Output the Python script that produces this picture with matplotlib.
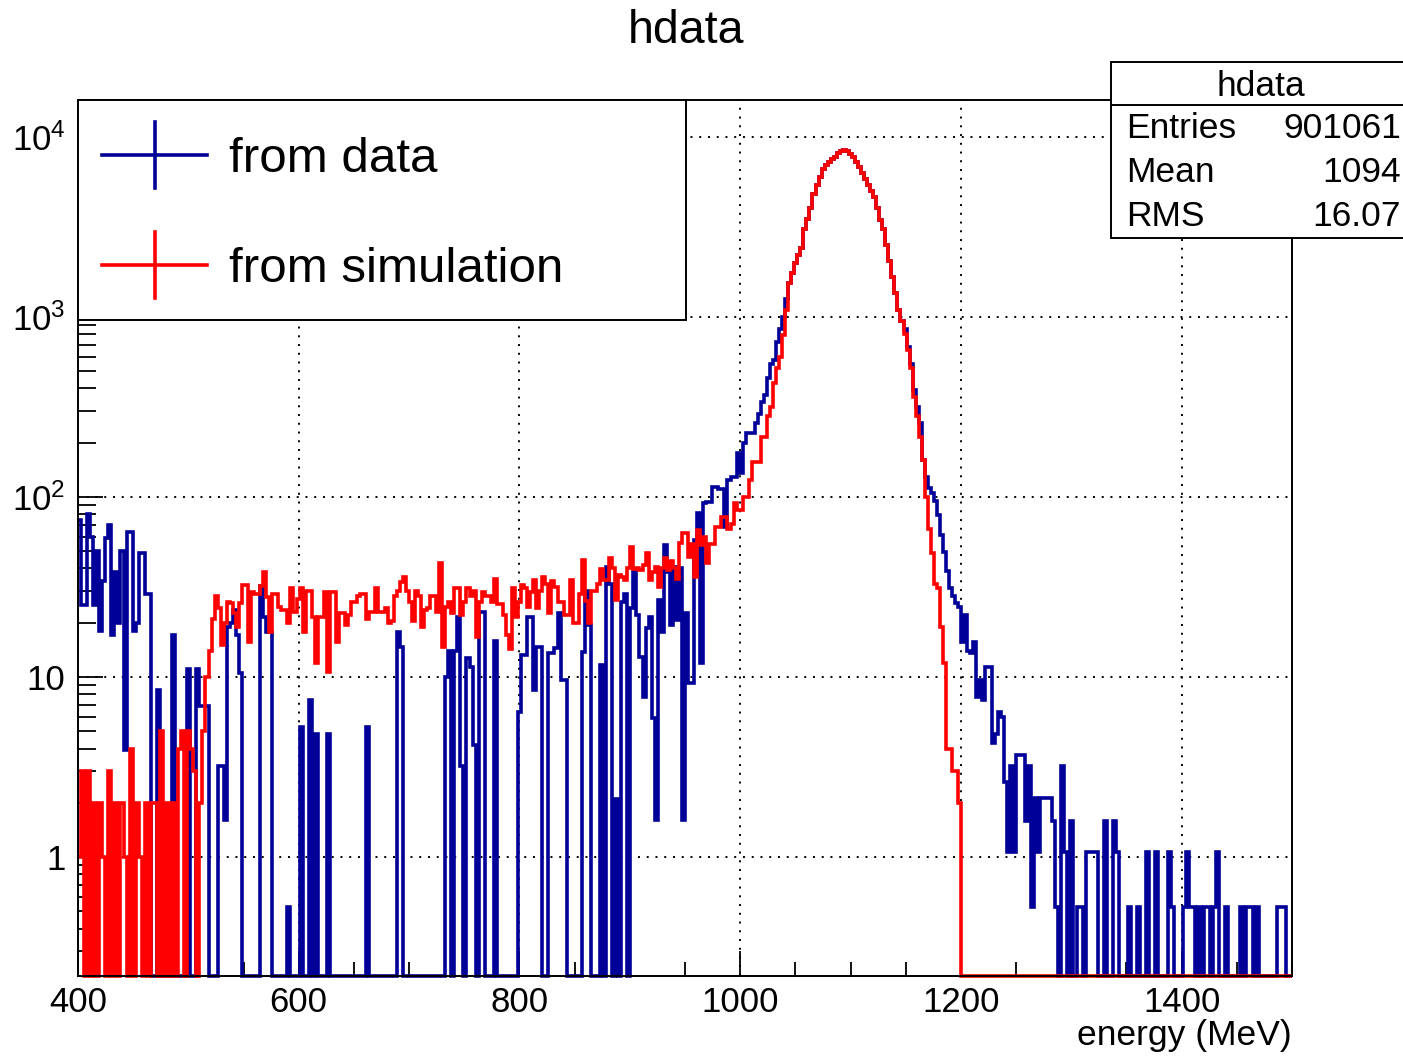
import numpy as np
import matplotlib
matplotlib.use("Agg")
import matplotlib.pyplot as plt
from matplotlib.ticker import MultipleLocator, LogLocator, NullFormatter, FixedLocator, FixedFormatter

plt.rcParams['font.family'] = ['Liberation Sans', 'DejaVu Sans']
plt.rcParams['mathtext.fontset'] = 'custom'
plt.rcParams['mathtext.rm'] = 'Liberation Sans'
plt.rcParams['mathtext.it'] = 'Liberation Sans'

# binning of hdata: 400 bins from 400 to 1500 MeV
e_lo, e_hi, n_bins = 400, 1500, 400

# "from data" (scaled data histogram), 20 bins per row
data_vals = [
    74, 25, 25, 80, 60, 25, 50, 18, 34, 59, 70, 17, 38, 20, 50, 3.9, 64, 64, 18, 20,
    49, 49, 29, 29, 0, 0, 8.5, 0, 0, 0, 0, 17, 0, 0, 0, 0, 11, 0, 0, 11,
    6.9, 6.9, 6.9, 0, 0, 0, 3.2, 3.2, 1.6, 19, 20, 23.5, 17, 10.5, 0, 0, 0, 0, 0, 0,
    32, 21.5, 17.8, 17.8, 0, 0, 0, 0, 0, 0.53, 0, 0, 0, 5.3, 0, 0, 7.4, 0, 4.8, 0,
    0, 0, 4.8, 0, 0, 0, 0, 0, 0, 0, 0, 0, 0, 0, 0, 5.3, 0, 0, 0, 0,
    0, 0, 0, 0, 0, 17.8, 14.7, 0, 0, 0, 0, 0, 0, 0, 0, 0, 0, 0, 0, 0,
    0, 10, 14, 0, 14, 21.5, 3.2, 0, 12.8, 11.4, 4.2, 0, 23, 23, 0, 0, 0, 15.9, 0, 0,
    0, 0, 0, 0, 0, 6.4, 13.2, 13.2, 21.5, 21.5, 8.5, 14.7, 14.7, 0, 0, 13.6, 13.6, 14.5, 22.7, 9.6,
    9.6, 0, 0, 0, 0, 0, 13.8, 30, 19.5, 0, 0, 0, 11.7, 0, 40.7, 33, 0, 2.1, 0, 26,
    29, 0, 24, 38, 22, 12.9, 7.7, 18.7, 21.5, 5.9, 1.6, 26.8, 17.8, 54, 38, 19.5, 40.7, 20.7, 40, 1.6,
    22.7, 9.2, 9.2, 57.6, 81, 12, 92.5, 94, 94, 113, 113, 110, 110, 68, 124, 129, 129, 175, 135, 200,
    225, 225, 225, 257, 290, 335, 370, 456, 550, 575, 720, 850, 1000, 1250, 1535, 1750, 2000, 2200, 2420, 3060,
    3500, 4000, 4800, 5400, 6000, 6600, 7000, 7200, 7500, 7700, 8100, 8300, 8400, 8300, 8000, 7700, 7200, 6800, 6300, 5800,
    5400, 5000, 4600, 4000, 3450, 3060, 2500, 2050, 1670, 1350, 1090, 950, 850, 680, 550, 390, 315, 257, 160, 129,
    112, 105, 95, 79, 61, 49.5, 38.5, 31, 28, 25.7, 24.5, 15.6, 22, 14, 13.6, 15.6, 7.7, 9.6, 7.4, 11.4,
    11.4, 4.3, 4.8, 6.4, 6.0, 2.6, 1.06, 3.18, 1.06, 3.7, 3.7, 3.7, 1.59, 3.18, 0.53, 2.12, 1.06, 2.12, 2.12, 2.12,
    2.12, 1.59, 0.53, 0, 3.18, 1.06, 0, 1.59, 0, 0.53, 0.53, 0, 1.06, 1.06, 1.06, 1.06, 0, 0, 1.59, 0,
    0, 1.59, 1.06, 0, 0, 0, 0.53, 0, 0, 0.53, 0, 0, 1.06, 0, 0, 1.06, 0, 0, 0, 1.06,
    0.53, 0, 0, 0, 0.53, 1.06, 0.53, 0.53, 0, 0.53, 0, 0.53, 0.53, 0, 0.53, 1.06, 0, 0, 0.53, 0,
    0, 0, 0, 0.53, 0, 0.53, 0.53, 0, 0.53, 0, 0, 0, 0, 0, 0, 0.53, 0.53, 0.53, 0, 0,
]

# "from simulation"
sim_vals = [
    1, 3, 0, 3, 0, 2, 0, 2, 1, 0, 3, 0, 2, 0, 2, 1, 0, 4, 0, 2,
    1, 0, 2, 0, 2, 2, 0, 5, 0, 2, 0, 2, 0, 4, 5, 0, 5, 4, 3, 0,
    2, 5, 10, 14, 21, 28, 24, 15, 20, 26, 25.7, 22.7, 19, 25.7, 32.5, 32.5, 15.6, 29.6, 29, 29,
    32, 38, 27.8, 17.8, 29, 29, 24.5, 23.5, 23.5, 20, 31, 23, 27, 31, 17.8, 30, 30, 21.5, 12, 21.5,
    21.5, 29.6, 10.6, 29.6, 29.6, 15.6, 22.7, 22.7, 19.5, 22, 26, 26, 28, 29, 29, 21, 23, 23, 31, 23,
    23, 24, 20, 20.5, 28, 30, 33.6, 36, 30, 26, 20.5, 30, 28, 19, 23.5, 24, 28, 28, 23, 43,
    14.7, 24.5, 26, 22.7, 31, 31, 22, 26, 31, 28, 30, 16.7, 26, 29.6, 28, 28, 26, 35, 25.5, 25.5,
    22, 17, 14.2, 31, 21.5, 26, 32.5, 31, 24.5, 29.6, 34.5, 24, 30, 35.8, 33, 22.7, 34, 31.6, 26, 26,
    22, 22, 34.5, 20, 20, 29, 44.6, 26.5, 20, 30, 30, 33, 39.5, 34.5, 34.5, 45.8, 40, 26.8, 36.8, 36,
    34.5, 40, 52.7, 39.5, 40, 39, 42, 49, 34.5, 38, 40.7, 31.6, 40, 45.8, 39, 44, 40, 35, 55.6, 63,
    63, 46.4, 55, 36, 65.5, 54, 60, 43, 55, 55, 68, 68, 77, 77, 66, 71, 92, 85, 85, 100,
    100, 124, 156, 156, 156, 215, 215, 280, 315, 430, 520, 600, 790, 1090, 1535, 1750, 2000, 2200, 2420, 3060,
    3500, 4000, 4800, 5400, 6000, 6600, 7000, 7200, 7500, 7700, 8100, 8300, 8400, 8300, 8000, 7700, 7200, 6800, 6300, 5800,
    5400, 5000, 4600, 4000, 3450, 3060, 2500, 2050, 1670, 1350, 1090, 950, 800, 650, 520, 360, 280, 215, 160, 100,
    66, 49, 33, 31, 19, 12, 4, 4, 3, 3, 2, 0, 0, 0, 0, 0, 0, 0, 0, 0,
] + [0] * 100

y_ticks = [1, 10, 100, 1000, 10000]
y_tick_labels = ['1', '10', r'$\mathregular{10^{2}}$', r'$\mathregular{10^{3}}$', r'$\mathregular{10^{4}}$']
legend_labels = ['from data', 'from simulation']
stats_rows = [('Entries', '901061'), ('Mean', '1094'), ('RMS', '16.07')]

blue = '#000099'
red = '#ff0000'
y_lo, y_hi = 0.218, 16000

W, H = 1403, 1056
fig = plt.figure(figsize=(W / 100, H / 100), dpi=100)
ax = fig.add_axes([78 / W, 80 / H, 1214 / W, 876 / H])

edges = np.linspace(e_lo, e_hi, n_bins + 1)
for vals, col in ((data_vals, blue), (sim_vals, red)):
    v = np.asarray(vals, dtype=float)
    v = np.where(v > 0, v, y_lo)  # empty bins sit on the axis, like ROOT
    ax.stairs(v, edges, baseline=None, color=col, lw=2.6, clip_on=False, zorder=2)

ax.set_xlim(e_lo, e_hi)
ax.set_yscale('log')
ax.set_ylim(y_lo, y_hi)

ax.xaxis.set_major_locator(FixedLocator([400, 600, 800, 1000, 1200, 1400]))
ax.xaxis.set_minor_locator(MultipleLocator(50))
ax.yaxis.set_major_locator(FixedLocator(y_ticks))
ax.yaxis.set_major_formatter(FixedFormatter(y_tick_labels))
ax.yaxis.set_minor_locator(LogLocator(base=10, subs=np.arange(2, 10)))
ax.yaxis.set_minor_formatter(NullFormatter())

ax.tick_params(which='both', direction='in', top=False, right=False, width=1.3,
               labelsize=25, colors='black')
ax.tick_params(axis='x', which='major', length=18, pad=7)
ax.tick_params(axis='x', which='minor', length=10)
ax.tick_params(axis='y', which='major', length=18, pad=9)
ax.tick_params(axis='y', which='minor', length=13)
for s in ax.spines.values():
    s.set_linewidth(1.4)

ax.set_axisbelow(True)
ax.grid(True, which='major', color='black', linestyle=(0, (1, 3.5)), lw=1.4)

fig.text(686 / W, 1 - 31 / H, 'hdata', ha='center', va='center', fontsize=33.5)
fig.text(1292 / W, 1 - 1035 / H, 'energy (MeV)', ha='right', va='center', fontsize=25.5)

# legend box
leg = fig.add_axes([78 / W, 1 - 320 / H, 608 / W, 220 / H])
leg.set_xlim(0, 1)
leg.set_ylim(0, 1)
leg.set_xticks([])
leg.set_yticks([])
for s in leg.spines.values():
    s.set_linewidth(1.4)
for (yc, col, lab) in ((0.75, blue, legend_labels[0]), (0.25, red, legend_labels[1])):
    leg.plot([0.039, 0.212], [yc, yc], color=col, lw=2.6)
    leg.plot([0.127, 0.127], [yc - 0.148, yc + 0.148], color=col, lw=2.6)
    leg.text(0.249, yc - 0.022, lab, ha='left', va='center', fontsize=35.5)

# stats box
st = fig.add_axes([1111 / W, 1 - 238 / H, 296 / W, 176 / H])
st.set_xlim(0, 1)
st.set_ylim(0, 1)
st.set_xticks([])
st.set_yticks([])
for s in st.spines.values():
    s.set_linewidth(1.4)
st.axhline(0.756, color='black', lw=1.4)
st.text(0.505, 0.86, 'hdata', ha='center', va='center', fontsize=25.5)
for k, (name, val) in enumerate(stats_rows):
    yc = 0.62 - 0.25 * k
    st.text(0.05, yc, name, ha='left', va='center', fontsize=25.5)
    st.text(0.98, yc, val, ha='right', va='center', fontsize=25.5)

fig.savefig('out.png', dpi=100)
